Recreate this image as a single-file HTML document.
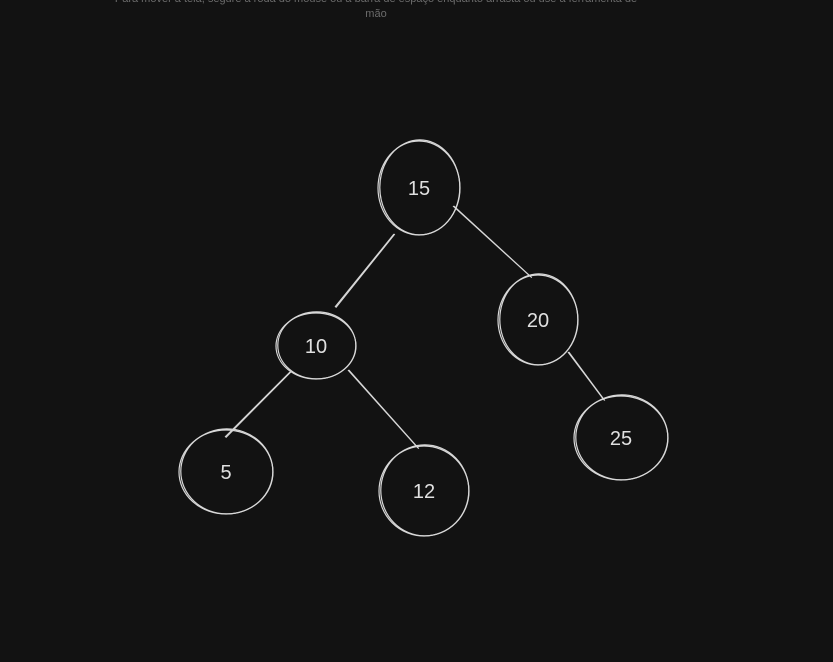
<!DOCTYPE html>
<html><head><meta charset="utf-8"><style>
html,body{margin:0;padding:0;background:#121212;width:833px;height:662px;overflow:hidden}
#hint{position:absolute;left:110px;top:-8px;width:532px;text-align:center;color:#6b6b6b;font:11px/15px "Liberation Sans",sans-serif}
</style></head><body>
<div id="hint">Para mover a tela, segure a roda do mouse ou a barra de espaço enquanto arrasta ou use a ferramenta de mão</div>
<svg id="tree" width="833" height="662" style="position:absolute;left:0;top:0"></svg>
<script>
const nodeLabels=["15","20","10","25","5","12"];
const nodeCx=[419,538,316,621,226,424];
const nodeCy=[188,320,346,438,472,491];
const nodeRx=[41,40,40,47,47,45];
const nodeRy=[47,45,33,42,42,45];
const edgeFrom=[[394,234],[453,206],[290,372],[348,370],[568,352]];
const edgeTo=[[335,307],[531,277],[225,437],[418,448],[604,400]];
const NS="http://www.w3.org/2000/svg";
const svg=document.getElementById('tree');
edgeFrom.forEach((f,i)=>{
  const t=edgeTo[i];
  for(let k=0;k<2;k++){
    const l=document.createElementNS(NS,'line');
    l.setAttribute('x1',f[0]+k*0.8);l.setAttribute('y1',f[1]);
    l.setAttribute('x2',t[0]+k*0.8);l.setAttribute('y2',t[1]+k*0.6);
    l.setAttribute('stroke','#d8d8d8');l.setAttribute('stroke-width','1.1');
    
    
    svg.appendChild(l);
  }
});
nodeLabels.forEach((lab,i)=>{
  const g=document.createElementNS(NS,'g');
  
  
  for(let k=0;k<2;k++){
    const e=document.createElementNS(NS,'ellipse');
    e.setAttribute('cx',nodeCx[i]+k*0.8);e.setAttribute('cy',nodeCy[i]-k*0.6);
    e.setAttribute('rx',nodeRx[i]-k);e.setAttribute('ry',nodeRy[i]+k*0.5);
    e.setAttribute('fill','none');e.setAttribute('stroke','#d8d8d8');e.setAttribute('stroke-width','1.2');
    g.appendChild(e);
  }
  const t=document.createElementNS(NS,'text');
  t.setAttribute('x',nodeCx[i]);t.setAttribute('y',nodeCy[i]+7);
  t.setAttribute('text-anchor','middle');t.setAttribute('fill','#e0e0e0');
  t.setAttribute('font-family','Liberation Sans, sans-serif');t.setAttribute('font-size','20');
  t.textContent=lab;
  g.appendChild(t);
  svg.appendChild(g);
});
</script>
</body></html>
